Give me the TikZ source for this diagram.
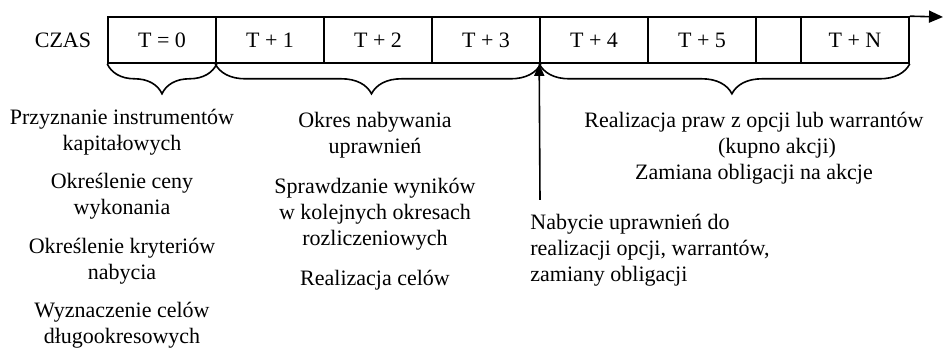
\documentclass[tikz,border=0pt]{standalone}
\usepackage{fontspec}
\setmainfont{Liberation Serif}
\usetikzlibrary{calc,decorations.pathreplacing,arrows.meta}

\begin{document}
\begin{tikzpicture}[x=0.5pt,y=-0.5pt,font=\fontsize{11}{13}\selectfont,
		cell/.style={draw,thick,minimum width=54pt,minimum height=23pt,inner sep=0pt},
		opis/.style={align=center,inner sep=0pt,anchor=north},
		klamra/.style={thick,decorate,decoration={brace,mirror,amplitude=15pt,aspect=#1}}]
		\useasboundingbox (0,0) rectangle (944,351);
		\node (czas) at (63,40) {CZAS};
		\node (T0) at (162,40) [cell] {T = 0};
		\node (T1) at ($(T0) + (108,0)$) [cell] {T + 1};
		\node (T2) at ($(T1) + (108,0)$) [cell] {T + 2};
		\node (T3) at ($(T2) + (108,0)$) [cell] {T + 3};
		\node (T4) at ($(T3) + (108,0)$) [cell] {T + 4};
		\node (T5) at ($(T4) + (108,0)$) [cell] {T + 5};
		\node (TE) at ($(T5) + (76.5,0)$) [cell,minimum width=22.5pt] {};
		\node (TN) at ($(TE) + (76.5,0)$) [cell] {T + N};
		\coordinate (koniec) at (943,17);
		\draw[thick,-{Triangle[width=6pt,length=7pt]}] (TN.north east) -- (koniec);
		% klamry pod osia czasu
		\draw[klamra=0.5] (T0.south west) -- (T0.south east);
		\draw[klamra=0.48] (T1.south west) -- (T3.south east);
		\draw[klamra=0.52] (T4.south west) -- (TN.south east);
		\coordinate (nabycie) at (540,200);
		\draw[thick,-{Triangle[width=5pt,length=6pt]}] (nabycie) -- (T4.south west);
		\node (L) at (122,109) [opis] {Przyznanie instrumentów\\kapitałowych\\[6pt]
			Określenie ceny\\wykonania\\[6.5pt]
			Określenie kryteriów\\nabycia\\[6pt]
			Wyznaczenie celów\\długookresowych};
		\node (M) at (375,112) [opis] {Okres nabywania\\uprawnień\\[7pt]
			Sprawdzanie wyników\\w kolejnych okresach\\rozliczeniowych\\[7pt]
			Realizacja celów};
		\node (R) at (754,112) [opis] {Realizacja praw z opcji lub warrantów\\\hspace*{23pt}(kupno akcji)\\Zamiana obligacji na akcje};
		\node (N) at (530,214) [opis,align=left,anchor=north west] {Nabycie uprawnień do\\realizacji opcji, warrantów,\\zamiany obligacji};
	\end{tikzpicture}
\end{document}
